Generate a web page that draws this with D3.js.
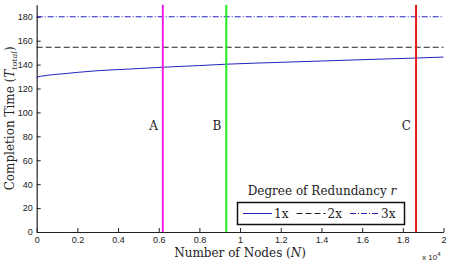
<!DOCTYPE html>
<html>
<head>
<meta charset="utf-8">
<script src="https://cdn.jsdelivr.net/npm/d3@7"></script>
<style>
  body { margin: 0; background: #fff; }
  svg text { fill: #222; }
</style>
</head>
<body>
<div id="chart"></div>
<script>
// number of nodes, in units of 10^4
var nodes = [0, 0.02, 0.05, 0.1, 0.13, 0.2, 0.3, 0.46, 0.62, 0.8, 0.93, 1.2, 1.4, 1.6, 1.87, 2.0];
// completion time with 1x redundancy
var time1x = [129.4, 130.2, 131.0, 131.9, 132.3, 133.5, 134.9, 136.3, 137.8, 139.2, 140.3, 141.9, 143.0, 144.1, 145.5, 146.3];
var time2x = 154.5;
var time3x = 180;
var markers = [
  {name: 'A', n: 0.62, color: '#ee22e6'},
  {name: 'B', n: 0.932, color: '#22ee22'},
  {name: 'C', n: 1.865, color: '#e8191a'}
];
var xTicks = [0, 0.2, 0.4, 0.6, 0.8, 1, 1.2, 1.4, 1.6, 1.8, 2];
var yTicks = [0, 20, 40, 60, 80, 100, 120, 140, 160, 180];
var legendItems = [
  {label: '1x', color: '#2222c0', dash: null},
  {label: '2x', color: '#222', dash: '6,3'},
  {label: '3x', color: '#2222c0', dash: '6,2,1,2'}
];

var width = 456, height = 264;
var plotLeft = 36.7, plotRight = 443.5, plotTop = 4.8, plotBottom = 232;
var serif = "'DejaVu Serif', 'Liberation Serif', serif";
var sans = "'Liberation Sans', Arial, sans-serif";

var svg = d3.select('#chart')
  .append('svg')
  .attr('width', width)
  .attr('height', height);

var x = d3.scaleLinear().domain([0, 2]).range([plotLeft, plotRight]);
var y = d3.scaleLinear().domain([0, 190]).range([plotBottom, plotTop]);

// axes, ticks pointing inward
var xAxis = svg.append('g')
  .attr('transform', 'translate(0,' + plotBottom + ')')
  .call(d3.axisBottom(x).tickValues(xTicks).tickSizeInner(-4).tickSizeOuter(0).tickPadding(5)
    .tickFormat(function(d){ return String(d); }));
var yAxis = svg.append('g')
  .attr('transform', 'translate(' + plotLeft + ',0)')
  .call(d3.axisLeft(y).tickValues(yTicks).tickSizeInner(-4).tickSizeOuter(0).tickPadding(4));

[xAxis, yAxis].forEach(function(g){
  g.select('.domain').attr('stroke', '#222').attr('stroke-width', 1.2);
  g.selectAll('.tick line').attr('stroke', '#222');
  g.selectAll('.tick text').style('font-family', sans).style('font-size', '9px').attr('fill', '#222');
});

// 2x and 3x reference levels
svg.append('line')
  .attr('x1', x(0)).attr('x2', x(2))
  .attr('y1', y(time2x)).attr('y2', y(time2x))
  .attr('stroke', legendItems[1].color).attr('stroke-width', 1)
  .attr('stroke-dasharray', legendItems[1].dash);

svg.append('line')
  .attr('x1', x(0)).attr('x2', x(2))
  .attr('y1', y(time3x)).attr('y2', y(time3x))
  .attr('stroke', legendItems[2].color).attr('stroke-width', 1)
  .attr('stroke-dasharray', legendItems[2].dash);

// 1x curve
var line = d3.line()
  .x(function(d, i){ return x(nodes[i]); })
  .y(function(d){ return y(d); })
  .curve(d3.curveMonotoneX);

svg.append('path')
  .datum(time1x)
  .attr('d', line)
  .attr('fill', 'none')
  .attr('stroke', legendItems[0].color)
  .attr('stroke-width', 1);

// vertical markers
svg.selectAll('.marker')
  .data(markers)
  .enter()
  .append('line')
  .attr('class', 'marker')
  .attr('x1', function(d){ return x(d.n); })
  .attr('x2', function(d){ return x(d.n); })
  .attr('y1', y(190)).attr('y2', y(0))
  .attr('stroke', function(d){ return d.color; })
  .attr('stroke-width', 2);

svg.selectAll('.marker-label')
  .data(markers)
  .enter()
  .append('text')
  .attr('x', function(d){ return x(d.n) - 5; })
  .attr('y', 130)
  .attr('text-anchor', 'end')
  .style('font-family', serif)
  .style('font-size', '12px')
  .text(function(d){ return d.name; });

// axis labels
var xlab = svg.append('text')
  .attr('x', (plotLeft + plotRight) / 2)
  .attr('y', 257)
  .attr('text-anchor', 'middle')
  .style('font-family', serif)
  .style('font-size', '12px');
xlab.append('tspan').text('Number of Nodes (');
xlab.append('tspan').style('font-style', 'italic').text('N');
xlab.append('tspan').text(')');

var ylab = svg.append('text')
  .attr('transform', 'translate(14,' + ((plotTop + plotBottom) / 2) + ') rotate(-90)')
  .attr('text-anchor', 'middle')
  .style('font-family', serif)
  .style('font-size', '12px');
ylab.append('tspan').text('Completion Time (');
ylab.append('tspan').style('font-style', 'italic').text('T');
ylab.append('tspan').attr('dy', 3).style('font-size', '8px').style('font-style', 'italic').text('total');
ylab.append('tspan').attr('dy', -3).text(')');

// x 10^4 multiplier
var mult = svg.append('text')
  .attr('x', 422)
  .attr('y', 260)
  .style('font-family', sans)
  .style('font-size', '8px');
mult.append('tspan').text('x 10');
mult.append('tspan').attr('dy', -4).style('font-size', '6px').text('4');

// legend
var ltitle = svg.append('text')
  .attr('x', 322)
  .attr('y', 195)
  .attr('text-anchor', 'middle')
  .style('font-family', serif)
  .style('font-size', '12px');
ltitle.append('tspan').text('Degree of Redundancy ');
ltitle.append('tspan').style('font-style', 'italic').text('r');

svg.append('rect')
  .attr('x', 237.5).attr('y', 202.5)
  .attr('width', 167).attr('height', 22)
  .attr('fill', '#fff')
  .attr('stroke', '#111')
  .attr('stroke-width', 1.5);

var legendX = d3.scalePoint().domain(legendItems.map(function(d){ return d.label; })).range([243, 350]);

var item = svg.selectAll('.legend-item')
  .data(legendItems)
  .enter()
  .append('g')
  .attr('class', 'legend-item')
  .attr('transform', function(d){ return 'translate(' + legendX(d.label) + ',213.5)'; });

item.append('line')
  .attr('x1', 0).attr('x2', 29)
  .attr('y1', 0).attr('y2', 0)
  .attr('stroke', function(d){ return d.color; })
  .attr('stroke-width', 1)
  .attr('stroke-dasharray', function(d){ return d.dash; });

item.append('text')
  .attr('x', 31)
  .attr('y', 4)
  .style('font-family', serif)
  .style('font-size', '12px')
  .text(function(d){ return d.label; });
</script>
</body>
</html>
